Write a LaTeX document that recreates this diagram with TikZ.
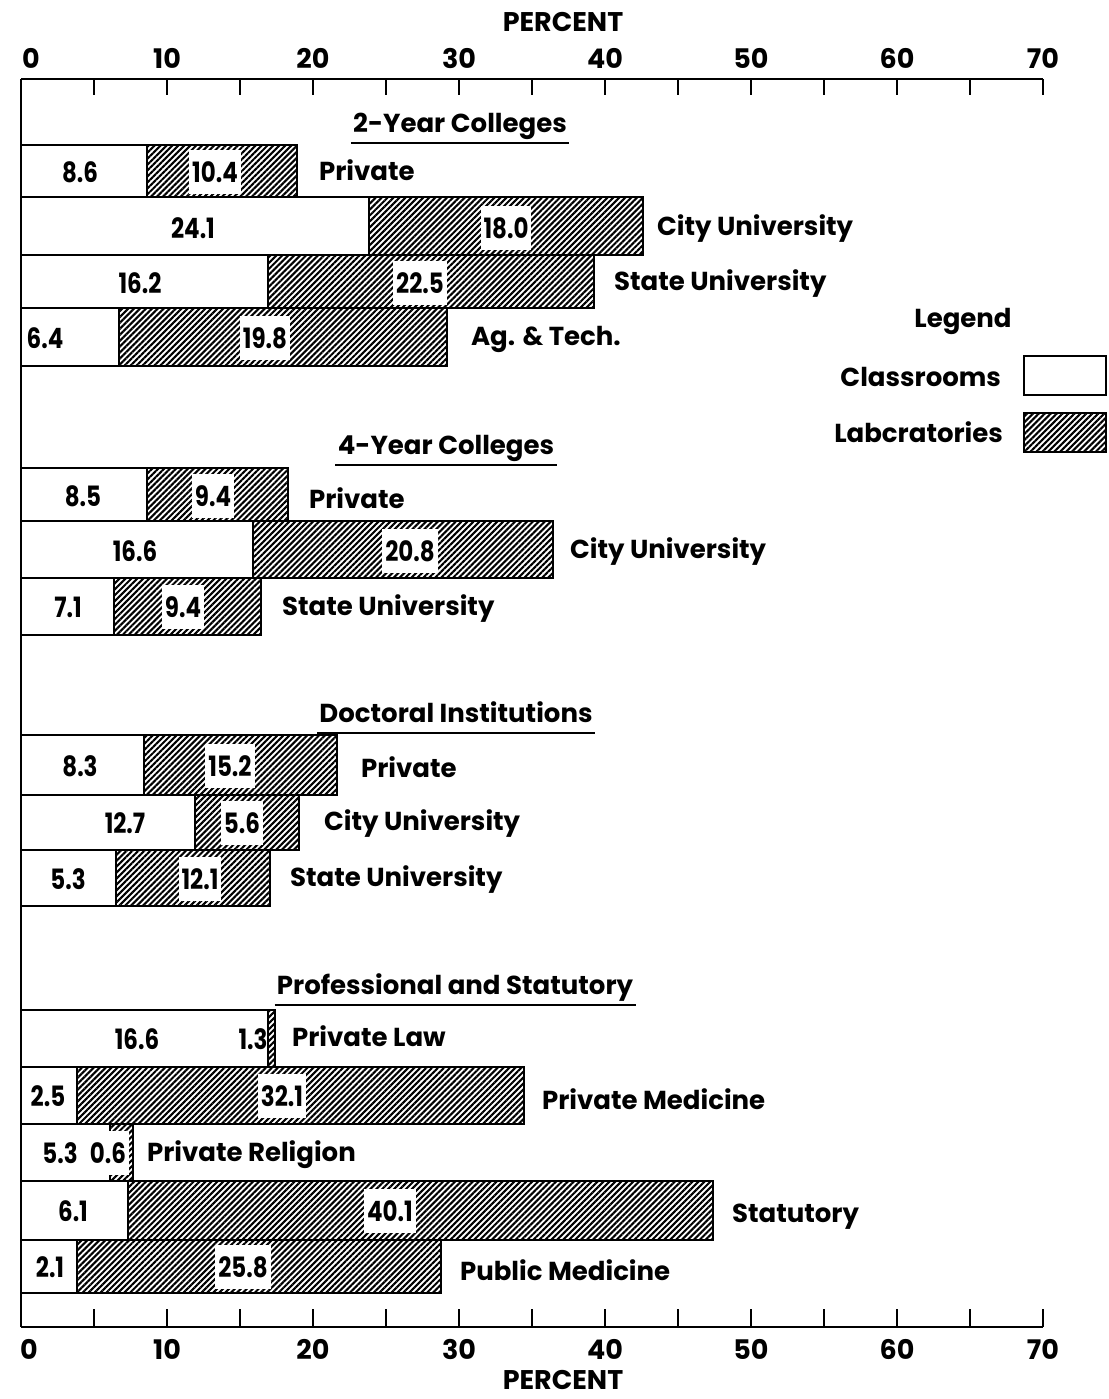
\documentclass[tikz,border=0pt]{standalone}
\usepackage{fontspec}
\setmainfont{Poppins}
\newfontfamily\numfont{Poppins}[FakeStretch=0.82]
\usetikzlibrary{patterns.meta}

\tikzset{
  classroom/.style={draw, line width=1.2pt, fill=white},
  lab/.style={draw, line width=1.2pt,
    pattern={Lines[angle=45,distance=2.1pt,line width=1.05pt]}},
  value/.style={font=\numfont\bfseries\fontsize{14}{16}\selectfont, inner sep=1.5pt},
  labvalue/.style={value, fill=white, minimum height=22pt},
  kind/.style={anchor=west, font=\bfseries\fontsize{13}{15}\selectfont},
  heading/.style={font=\bfseries\fontsize{13}{15}\selectfont, inner sep=1pt, text depth=4pt},
  axis/.style={line width=1.4pt},
  scalelabel/.style={font=\bfseries\fontsize{13.5}{16}\selectfont, inner sep=0pt},
}

\begin{document}
\begin{tikzpicture}[x=0.5pt,y=-0.5pt]

    \useasboundingbox (0,0) rectangle (1109,1399);

    % axes
    \draw[axis] (21,79) -- (1043,79);
    \draw[axis] (21,1327) -- (1043,1327);
    \draw[axis] (21,79) -- (21,1327);

    \foreach \v in {0,5,...,70} {
      \draw[axis] ({21+14.6*\v},79) -- ++(0,16);
      \draw[axis] ({21+14.6*\v},1327) -- ++(0,-18);
    }
    \foreach \v in {0,10,...,70} {
      \node[scalelabel] (top\v) at ({21+14.6*\v+(\v==0?10:0)},58) {\v};
      \node[scalelabel] (bot\v) at ({21+14.6*\v+(\v==0?8:0)},1349) {\v};
    }

    \node[scalelabel] (percenttop) at (563,22) {PERCENT};
    \node[scalelabel] (percentbot) at (563,1380) {PERCENT};


    % 2-Year Colleges
    \node[heading] (twoyear) at (460,127) {2-Year Colleges};
    \draw[line width=1.3pt] (twoyear.south west) -- (twoyear.south east);

    \draw[classroom] (21,145) rectangle (147,197);
    \draw[lab] (147,145) rectangle (297,197);
    \node[value] (tp-c) at (80,172) {8.6};
    \node[labvalue] (tp-l) at (215,172) {10.4};
    \node[kind] (tp) at (312,170) {Private};

    \draw[classroom] (21,197) rectangle (369,255);
    \draw[lab] (369,197) rectangle (643,255);
    \node[value] (tc-c) at (193,228) {24.1};
    \node[labvalue] (tc-l) at (506,228) {18.0};
    \node[kind] (tc) at (650,229) {City University};

    \draw[classroom] (21,255) rectangle (268,308);
    \draw[lab] (268,255) rectangle (594,308);
    \node[value] (ts-c) at (140,283) {16.2};
    \node[labvalue] (ts-l) at (420,283) {22.5};
    \node[kind] (ts) at (607,284) {State University};

    \draw[classroom] (21,308) rectangle (119,366);
    \draw[lab] (119,308) rectangle (447,366);
    \node[value] (ta-c) at (45,338) {6.4};
    \node[labvalue] (ta-l) at (265,338) {19.8};
    \node[kind] (ta) at (464,339) {Ag. \& Tech.};


    % 4-Year Colleges
    \node[heading] (fouryear) at (446,449) {4-Year Colleges};
    \draw[line width=1.3pt] (fouryear.south west) -- (fouryear.south east);

    \draw[classroom] (21,468) rectangle (147,521);
    \draw[lab] (147,468) rectangle (288,521);
    \node[value] (fp-c) at (83,496) {8.5};
    \node[labvalue] (fp-l) at (213,496) {9.4};
    \node[kind] (fp) at (302,498) {Private};

    \draw[classroom] (21,521) rectangle (253,578);
    \draw[lab] (253,521) rectangle (553,578);
    \node[value] (fc-c) at (135,551) {16.6};
    \node[labvalue] (fc-l) at (410,551) {20.8};
    \node[kind] (fc) at (563,552) {City University};

    \draw[classroom] (21,578) rectangle (114,635);
    \draw[lab] (114,578) rectangle (261,635);
    \node[value] (fs-c) at (68,607) {7.1};
    \node[labvalue] (fs-l) at (183,607) {9.4};
    \node[kind] (fs) at (275,609) {State University};


    % Doctoral Institutions
    \node[heading] (doctoral) at (456,716) {Doctoral Institutions};
    \draw[line width=1.3pt] (doctoral.south west) -- (doctoral.south east);

    \draw[classroom] (21,735) rectangle (144,795);
    \draw[lab] (144,735) rectangle (337,795);
    \node[value] (dp-c) at (80,766) {8.3};
    \node[labvalue] (dp-l) at (230,766) {15.2};
    \node[kind] (dp) at (354,767) {Private};

    \draw[classroom] (21,795) rectangle (195,850);
    \draw[lab] (195,795) rectangle (299,850);
    \node[value] (dc-c) at (125,823) {12.7};
    \node[labvalue] (dc-l) at (242,823) {5.6};
    \node[kind] (dc) at (317,824) {City University};

    \draw[classroom] (21,850) rectangle (116,906);
    \draw[lab] (116,850) rectangle (270,906);
    \node[value] (ds-c) at (68,879) {5.3};
    \node[labvalue] (ds-l) at (200,879) {12.1};
    \node[kind] (ds) at (283,880) {State University};


    % Professional and Statutory
    \node[heading] (profstat) at (455,988) {Professional and Statutory};
    \draw[line width=1.3pt] (profstat.south west) -- (profstat.south east);

    \draw[classroom] (21,1010) rectangle (268,1067);
    \draw[lab] (268,1010) rectangle (275,1067);
    \node[value] (pl-c) at (137,1039) {16.6};
    \node[value] (pl-l) at (253,1039) {1.3};
    \node[kind] (pl) at (285,1036) {Private Law};

    \draw[classroom] (21,1067) rectangle (77,1124);
    \draw[lab] (77,1067) rectangle (524,1124);
    \node[value] (pm-c) at (48,1096) {2.5};
    \node[labvalue] (pm-l) at (282,1096) {32.1};
    \node[kind] (pm) at (535,1099) {Private Medicine};

    \draw[classroom] (21,1124) rectangle (110,1181);
    \draw[lab] (110,1124) rectangle (133,1181);
    \node[value] (pr-c) at (60,1153) {5.3};
    \node[labvalue] (pr-l) at (108,1153) {0.6};
    \node[kind] (pr) at (140,1155) {Private Religion};

    \draw[classroom] (21,1181) rectangle (128,1240);
    \draw[lab] (128,1181) rectangle (713,1240);
    \node[value] (ps-c) at (73,1211) {6.1};
    \node[labvalue] (ps-l) at (390,1211) {40.1};
    \node[kind] (ps) at (725,1217) {Statutory};

    \draw[classroom] (21,1240) rectangle (77,1293);
    \draw[lab] (77,1240) rectangle (441,1293);
    \node[value] (pu-c) at (50,1267) {2.1};
    \node[labvalue] (pu-l) at (243,1267) {25.8};
    \node[kind] (pu) at (453,1270) {Public Medicine};


    % legend
    \node[font=\bfseries\fontsize{13}{15}\selectfont] (legend) at (963,321) {Legend};
    \draw[classroom] (1024,356) rectangle (1106,395);
    \draw[lab] (1024,413) rectangle (1106,452);
    \node[kind, anchor=east] (classrooms) at (1008,377) {Classrooms};
    \node[kind, anchor=east] (labs) at (1010,432) {Labcratories};

\end{tikzpicture}
\end{document}
